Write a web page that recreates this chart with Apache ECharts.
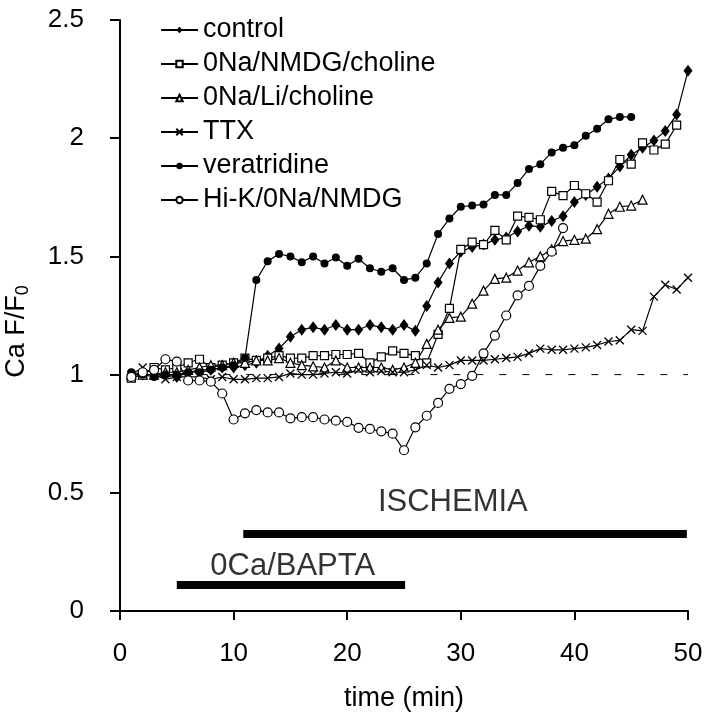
<!DOCTYPE html>
<html>
<head>
    <meta charset="utf-8">
    <title>Ca F/F0</title>
    <script src="https://cdn.jsdelivr.net/npm/echarts@6/dist/echarts.min.js"></script>
    <style>
        html, body {margin: 0; padding: 0; background: #fff;}
        #main {width: 709px; height: 720px;}
    </style>
</head>
<body>
<div id="main"></div>
<script>
    var seriesNames = ['control', '0Na/NMDG/choline', '0Na/Li/choline', 'TTX', 'veratridine', 'Hi-K/0Na/NMDG'];
    var yTicks = [0, 0.5, 1, 1.5, 2, 2.5];
    var xTicks = [0, 10, 20, 30, 40, 50];

    // values per minute, starting at t = 1
    var control = [1.00, 1.00, 1.00, 1.00, 0.99, 1.01, 1.02, 1.02, 1.03, 1.03,
        1.04, 1.05, 1.08, 1.11, 1.16, 1.19, 1.20, 1.19, 1.21, 1.19,
        1.19, 1.21, 1.20, 1.19, 1.21, 1.185, 1.29, 1.39, 1.47, 1.52,
        1.54, 1.55, 1.57, 1.58, 1.605, 1.63, 1.625, 1.65, 1.67, 1.73,
        1.76, 1.795, 1.83, 1.88, 1.93, 1.96, 1.99, 2.03, 2.10, 2.285];
    var nmdgCholine = [0.985, 1.00, 1.03, 1.02, 1.03, 1.05, 1.065, 1.03, 1.04, 1.05,
        1.07, 1.06, 1.07, 1.08, 1.07, 1.07, 1.08, 1.08, 1.085, 1.085,
        1.09, 1.05, 1.075, 1.10, 1.09, 1.08, 1.05, 1.17, 1.28, 1.53,
        1.56, 1.55, 1.61, 1.57, 1.67, 1.665, 1.655, 1.775, 1.757, 1.80,
        1.765, 1.73, 1.82, 1.91, 1.89, 1.98, 1.95, 1.975, 2.055];
    var liCholine = [1.00, 1.00, 1.00, 1.01, 1.01, 1.02, 1.03, 1.04, 1.04, 1.05,
        1.05, 1.06, 1.06, 1.07, 1.05, 1.04, 1.035, 1.03, 1.06, 1.03,
        1.03, 1.03, 1.03, 1.02, 1.03, 1.05, 1.13, 1.19, 1.24, 1.245,
        1.30, 1.355, 1.405, 1.41, 1.44, 1.475, 1.50, 1.53, 1.565, 1.57,
        1.575, 1.615, 1.68, 1.71, 1.715, 1.74];
    var ttx = [1.00, 1.03, 1.00, 0.98, 0.99, 0.99, 0.99, 0.98, 0.99, 0.98,
        0.98, 0.985, 0.985, 0.99, 1.005, 1.00, 1.00, 1.005, 1.01, 1.005,
        1.02, 1.01, 1.015, 1.01, 1.01, 1.02, 1.04, 1.03, 1.04, 1.06,
        1.06, 1.06, 1.065, 1.07, 1.075, 1.09, 1.11, 1.105, 1.105, 1.11,
        1.115, 1.125, 1.14, 1.145, 1.19, 1.185, 1.33, 1.38, 1.36, 1.41];
    var veratridine = [1.01, 1.00, 0.99, 1.00, 1.00, 1.01, 1.01, 1.02, 1.03, 1.04,
        1.07, 1.40, 1.48, 1.51, 1.50, 1.475, 1.50, 1.47, 1.495, 1.46,
        1.49, 1.45, 1.435, 1.45, 1.40, 1.41, 1.47, 1.595, 1.66, 1.71,
        1.715, 1.72, 1.76, 1.76, 1.81, 1.87, 1.89, 1.94, 1.96, 1.97,
        2.01, 2.04, 2.08, 2.09, 2.09];
    var hiK = [0.99, 1.01, 1.02, 1.065, 1.055, 0.975, 0.975, 0.97, 0.92, 0.81,
        0.836, 0.85, 0.84, 0.84, 0.815, 0.82, 0.82, 0.81, 0.805, 0.80,
        0.775, 0.77, 0.76, 0.75, 0.68, 0.777, 0.826, 0.88, 0.94, 0.96,
        0.995, 1.09, 1.165, 1.25, 1.335, 1.375, 1.46, 1.52, 1.62];

    // treatment bars: [start, end, level]
    var ischemiaBar = [10.85, 49.9, 0.326];
    var baptaBar = [5, 25.1, 0.11];
    var barLabels = [
        {name: 'ISCHEMIA', value: [29.3, 0.46]},
        {name: '0Ca/BAPTA', value: [15.2, 0.19]}
    ];
    var baseline = [[1, 1], [50, 1]];

    function pairs(vals) {
        var out = [];
        for (var i = 0; i < vals.length; i++) {
            out.push([i + 1, vals[i]]);
        }
        return out;
    }

    var font = '"Liberation Sans", Arial, Helvetica, sans-serif';
    var openStyle = {color: '#fff', borderColor: '#000', borderWidth: 1.2};
    var lineStyle = {color: '#000', width: 1.2};

    function dataSeries(name, vals, symbol, size, itemStyle) {
        return {
            name: name,
            type: 'line',
            data: pairs(vals),
            symbol: symbol,
            symbolSize: size,
            showAllSymbol: true,
            color: '#000',
            itemStyle: itemStyle,
            lineStyle: lineStyle,
            emphasis: {disabled: true},
            z: 3
        };
    }

    var myChart = echarts.init(document.getElementById('main'));
    var option = {
        backgroundColor: '#fff',
        animation: false,
        textStyle: {fontFamily: font, color: '#000'},
        grid: {left: 120, right: 21, top: 20, bottom: 109, outerBoundsMode: 'none', containLabel: false},
        legend: {
            data: seriesNames,
            orient: 'vertical',
            left: 155,
            top: 11,
            itemWidth: 37,
            itemHeight: 8,
            itemGap: 6,
            textStyle: {fontFamily: font, fontSize: 27, lineHeight: 28, color: '#000'}
        },
        xAxis: {
            type: 'value',
            min: xTicks[0],
            max: xTicks[xTicks.length - 1],
            interval: 10,
            name: 'time (min)',
            nameLocation: 'middle',
            nameGap: 74,
            nameTextStyle: {fontFamily: font, fontSize: 27, color: '#000'},
            axisLine: {lineStyle: {color: '#000', width: 2}},
            axisTick: {length: 9, lineStyle: {color: '#000', width: 2}},
            axisLabel: {fontFamily: font, fontSize: 26, color: '#000', margin: 30},
            splitLine: {show: false}
        },
        yAxis: {
            type: 'value',
            min: yTicks[0],
            max: yTicks[yTicks.length - 1],
            interval: 0.5,
            name: 'Ca F/F{sub|0}',
            nameLocation: 'middle',
            nameGap: 88,
            nameTextStyle: {
                fontFamily: font, fontSize: 27, color: '#000', lineHeight: 30,
                padding: [0, 32, 0, 0],
                rich: {sub: {fontFamily: font, fontSize: 18, lineHeight: 30, verticalAlign: 'bottom', color: '#000'}}
            },
            axisLine: {show: true, lineStyle: {color: '#000', width: 2}},
            axisTick: {show: true, length: 10, lineStyle: {color: '#000', width: 2}},
            axisLabel: {fontFamily: font, fontSize: 26, color: '#000', margin: 36},
            splitLine: {show: false}
        },
        series: [
            {
                name: 'baseline',
                type: 'line',
                data: baseline,
                symbol: 'none',
                silent: true,
                lineStyle: {color: '#000', width: 1, type: [7, 16]},
                z: 1
            },
            {
                name: 'ischemia',
                type: 'line',
                data: [[ischemiaBar[0], ischemiaBar[2]], [ischemiaBar[1], ischemiaBar[2]]],
                symbol: 'none',
                silent: true,
                lineStyle: {color: '#000', width: 8, cap: 'butt'}
            },
            {
                name: 'bapta',
                type: 'line',
                data: [[baptaBar[0], baptaBar[2]], [baptaBar[1], baptaBar[2]]],
                symbol: 'none',
                silent: true,
                lineStyle: {color: '#000', width: 8, cap: 'butt'}
            },
            {
                name: 'labels',
                type: 'scatter',
                data: barLabels,
                symbolSize: 0,
                silent: true,
                label: {
                    show: true,
                    position: 'inside',
                    formatter: '{b}',
                    fontFamily: font,
                    fontSize: 31,
                    color: '#000'
                }
            },
            dataSeries(seriesNames[0], control, 'diamond', [9, 12], {color: '#000'}),
            dataSeries(seriesNames[1], nmdgCholine, 'rect', 8, openStyle),
            dataSeries(seriesNames[2], liCholine, 'triangle', 9, openStyle),
            dataSeries(seriesNames[3], ttx, 'path://M0,0L10,10M10,0L0,10', 8,
                {color: 'none', borderColor: '#000', borderWidth: 1.3}),
            dataSeries(seriesNames[4], veratridine, 'circle', 8, {color: '#000'}),
            dataSeries(seriesNames[5], hiK, 'circle', 9, openStyle)
        ]
    };
    myChart.setOption(option);
</script>
</body>
</html>
